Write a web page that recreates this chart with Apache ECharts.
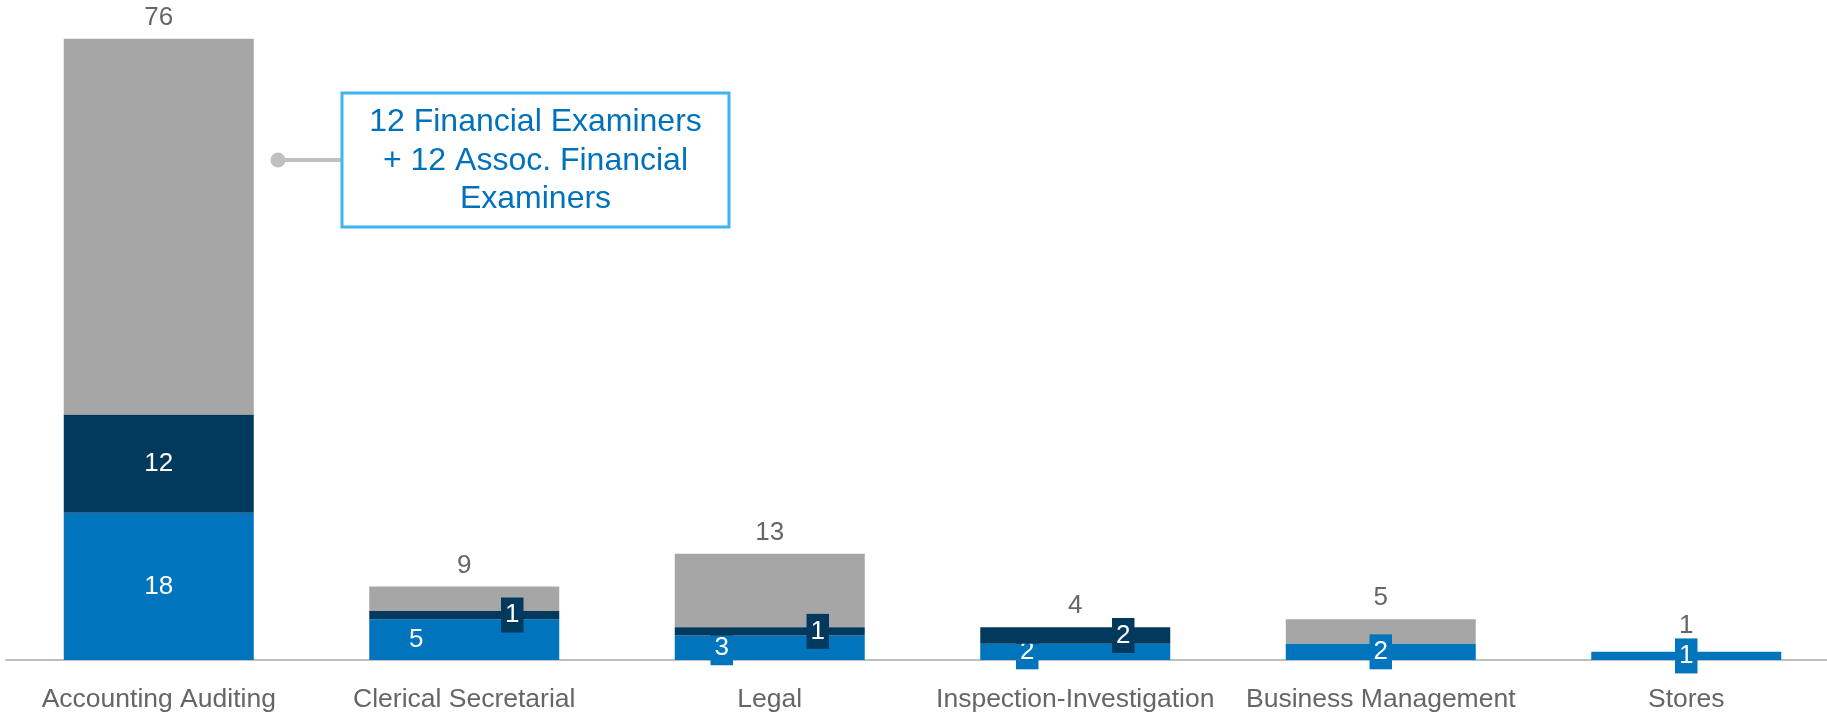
<!DOCTYPE html>
<html><head><meta charset="utf-8">
<script src="https://cdn.jsdelivr.net/npm/echarts@6/dist/echarts.min.js"></script>
<style>html,body{margin:0;padding:0;background:#fff;overflow:hidden;width:1827px;height:718px}#c{width:1839px;height:718px}</style>
</head><body><div id="c"></div>
<script>
const categories = ['Accounting Auditing','Clerical Secretarial','Legal','Inspection-Investigation','Business Management','Stores'];
const blueValues = [18, 5, 3, 2, 2, 1];
const navyValues = [12, 1, 1, 2, 0, 0];
const grayValues = [46, 3, 9, 0, 3, 0];
const totals = [76, 9, 13, 4, 5, 1];
const annotationLines = ['12 Financial Examiners', '+ 12 Assoc. Financial', 'Examiners'];

const BLUE = '#0075BE', NAVY = '#023A5E', GRAY = '#A6A6A6', TXT = '#666666';
const FONT = '"Liberation Sans", Arial, sans-serif';

function items(values, side) {
  return values.map((v, i) => {
    const shift = (navyValues[i] > 0 && navyValues[i] < 5) ? side * 48 : 0;
    return { value: v, label: { show: v > 0, offset: [shift, 0] } };
  });
}
function segLabel(bg) {
  return { show: true, position: 'inside', color: '#fff', fontSize: 26, fontFamily: FONT,
    backgroundColor: bg, padding: [5, 4, 4, 4] };
}

const chart = echarts.init(document.getElementById('c'), null, { renderer: 'canvas' });
chart.setOption({
  animation: false,
  backgroundColor: '#fff',
  grid: { left: 6, right: 0, top: 6, bottom: 58, containLabel: false },
  xAxis: {
    type: 'category', data: categories,
    axisLine: { lineStyle: { color: '#BFBFBF', width: 2 } },
    axisTick: { show: false },
    axisLabel: { color: TXT, fontSize: 26.5, fontFamily: FONT, margin: 26, interval: 0 }
  },
  yAxis: { type: 'value', min: 0, max: 80, show: false, splitLine: { show: false } },
  series: [
    { name: 'blue', type: 'bar', stack: 's', barWidth: 190, itemStyle: { color: BLUE },
      label: segLabel(BLUE), data: items(blueValues, -1), z: 3 },
    { name: 'navy', type: 'bar', stack: 's', barWidth: 190, itemStyle: { color: NAVY },
      label: segLabel(NAVY), data: items(navyValues, 1), z: 4 },
    { name: 'gray', type: 'bar', stack: 's', barWidth: 190, itemStyle: { color: GRAY },
      label: { show: false }, data: grayValues, z: 2 },
    { name: 'total', type: 'bar', stack: 's', barWidth: 190, itemStyle: { color: 'rgba(0,0,0,0)' },
      data: totals.map(t => ({ value: 0, label: { offset: [0, t <= 1 ? -5 : 0] } })),
      label: { show: true, position: 'top', distance: 8, color: TXT, fontSize: 26, fontFamily: FONT,
        formatter: p => String(totals[p.dataIndex]) } }
  ],
  graphic: [
    { type: 'line', shape: { x1: 278, y1: 160, x2: 342, y2: 160 }, style: { stroke: '#BFBFBF', lineWidth: 4 } },
    { type: 'circle', shape: { cx: 278, cy: 160, r: 7.5 }, style: { fill: '#BFBFBF' } },
    { type: 'rect', shape: { x: 342, y: 93, width: 387, height: 134 },
      style: { fill: '#fff', stroke: '#3FB3F2', lineWidth: 3 } },
    { type: 'text', x: 535.5, y: 161,
      style: { text: annotationLines.join('\n'), fill: '#0072BC', fontSize: 32, fontFamily: FONT,
        lineHeight: 38.5, align: 'center', verticalAlign: 'middle' } }
  ]
});
</script></body></html>
